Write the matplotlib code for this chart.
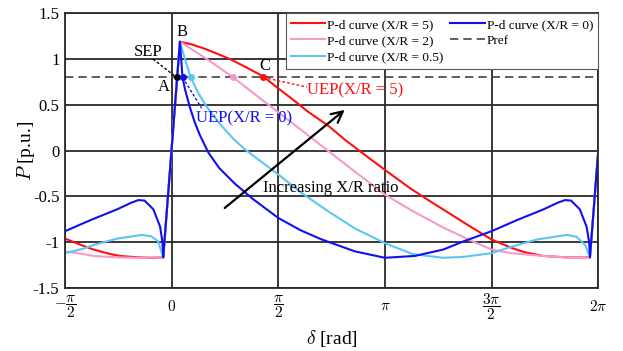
import numpy as np
import matplotlib
matplotlib.use("Agg")
import matplotlib.pyplot as plt

plt.rcParams["font.family"] = ["Liberation Serif", "DejaVu Serif"]
plt.rcParams["mathtext.fontset"] = "cm"

# P-d curves (delta in rad, P in p.u.)
d_xr5 = [-1.571, -1.3, -1.15, -0.9, -0.76, -0.5, -0.3, -0.124, 0.122, 0.3, 0.5, 0.7, 0.86, 1.1,
         1.35, 1.57, 1.8, 2.0, 2.31, 2.55, 2.78, 3.14, 3.51, 3.8, 4.1, 4.4, 4.71, 5.0, 5.2, 5.47,
         5.8, 6.16, 6.283]
p_xr5 = [-0.96, -1.04, -1.08, -1.13, -1.15, -1.165, -1.17, -1.165, 1.19, 1.16, 1.11, 1.05, 1.00, 0.91,
         0.81, 0.68, 0.55, 0.43, 0.27, 0.12, -0.01, -0.21, -0.41, -0.55, -0.69, -0.83, -0.97, -1.06, -1.11, -1.15,
         -1.165, -1.165, 0.0]

d_xr2 = [-1.571, -1.3, -1.15, -0.8, -0.5, -0.124, 0.122, 0.5, 0.907, 1.2, 1.57, 1.9, 2.3, 2.7,
         3.14, 3.55, 4.0, 4.4, 4.71, 5.0, 5.47, 5.8, 6.16, 6.283]
p_xr2 = [-1.10, -1.13, -1.15, -1.165, -1.17, -1.165, 1.19, 1.01, 0.80, 0.63, 0.42, 0.23, 0.0, -0.23,
         -0.48, -0.66, -0.84, -0.98, -1.08, -1.12, -1.15, -1.165, -1.165, 0.0]

d_xr05 = [-1.571, -1.3, -1.15, -0.8, -0.44, -0.3, -0.2, -0.124, 0.122, 0.2, 0.28, 0.4, 0.515, 0.7,
          0.907, 1.07, 1.3, 1.57, 1.91, 2.3, 2.7, 3.14, 3.55, 4.0, 4.3, 4.71, 5.0, 5.38, 5.82, 5.96,
          6.09, 6.16, 6.283]
p_xr05 = [-1.12, -1.07, -1.03, -0.96, -0.92, -0.935, -0.99, -1.165, 1.19, 0.99, 0.80, 0.62, 0.48, 0.30,
          0.13, 0.02, -0.11, -0.26, -0.46, -0.66, -0.85, -1.01, -1.13, -1.17, -1.16, -1.12, -1.05, -0.97, -0.92, -0.94,
          -1.03, -1.165, 0.0]

d_xr0 = [-1.571, -1.2, -0.8, -0.6, -0.49, -0.4, -0.27, -0.17, -0.135, -0.124, 0.122, 0.16, 0.2, 0.27,
         0.34, 0.416, 0.54, 0.7, 0.93, 1.2, 1.57, 1.9, 2.21, 2.7, 3.14, 3.58, 4.0, 4.3, 4.71, 5.08,
         5.48, 5.68, 5.79, 5.88, 6.01, 6.11, 6.148, 6.16, 6.283]
p_xr0 = [-0.88, -0.76, -0.64, -0.57, -0.54, -0.545, -0.64, -0.83, -1.0, -1.165, 1.19, 0.80, 0.66, 0.47,
         0.31, 0.17, -0.02, -0.19, -0.36, -0.53, -0.735, -0.87, -0.97, -1.10, -1.17, -1.15, -1.08, -0.99, -0.88, -0.76,
         -0.64, -0.57, -0.54, -0.545, -0.64, -0.83, -1.0, -1.165, 0.01]

p_ref = 0.8

# operating points on the Pref line
pt_sep = (0.074, 0.8)
pt_uep0 = (0.162, 0.8)
pt_uep05 = (0.28, 0.8)
pt_uep2 = (0.907, 0.8)
pt_uep5 = (1.35, 0.8)

x_ticks = [-np.pi / 2, 0, np.pi / 2, np.pi, 3 * np.pi / 2, 2 * np.pi]
x_labels = [r"$-\dfrac{\pi}{2}$", r"$0$", r"$\dfrac{\pi}{2}$", r"$\pi$", r"$\dfrac{3\pi}{2}$", r"$2\pi$"]
y_ticks = [-1.5, -1, -0.5, 0, 0.5, 1, 1.5]
y_labels = ["-1.5", "-1", "-0.5", "0", "0.5", "1", "1.5"]

c_red = "#ff1010"
c_pink = "#f59acb"
c_cyan = "#5cc6f2"
c_blue = "#1010f0"

fig = plt.figure(figsize=(6.23, 3.51), dpi=100)
ax = fig.add_axes([0.1043, 0.1795, 0.8561, 0.7825])

ax.plot(d_xr5, p_xr5, color=c_red, lw=1.5, label="P-d curve (X/R = 5)")
ax.plot(d_xr2, p_xr2, color=c_pink, lw=1.5, label="P-d curve (X/R = 2)")
ax.plot(d_xr05, p_xr05, color=c_cyan, lw=1.5, label="P-d curve (X/R = 0.5)")
ax.plot(d_xr0, p_xr0, color=c_blue, lw=1.5, label="P-d curve (X/R = 0)")
ax.axhline(p_ref, color="#444444", lw=1.2, ls=(0, (5, 3)), label="Pref")

# points
ax.plot(*pt_sep, "o", color="black", ms=4, zorder=5)
ax.plot(*pt_uep0, "o", color=c_blue, ms=4, zorder=5)
ax.plot(*pt_uep05, "o", color=c_cyan, ms=4, zorder=5)
ax.plot(*pt_uep2, "o", color=c_pink, ms=4, zorder=5)
ax.plot(*pt_uep5, "o", color=c_red, ms=4, zorder=5)

# annotations
ax.plot([-0.275, pt_sep[0]], [1.0, pt_sep[1]], color="black", lw=1, ls=(0, (2, 1.5)))
ax.plot([pt_uep0[0], 0.44], [pt_uep0[1], 0.465], color=c_blue, lw=1, ls=(0, (2, 1.5)))
ax.plot([pt_uep5[0], 1.99], [pt_uep5[1], 0.695], color=c_red, lw=1, ls=(0, (2, 1.5)))

ax.text(-0.345, 1.08, "SEP", fontsize=12, ha="center", va="center")
ax.text(-0.11, 0.69, "A", fontsize=12, ha="center", va="center")
ax.text(0.147, 1.30, "B", fontsize=12, ha="center", va="center")
ax.text(1.374, 0.93, "C", fontsize=12, ha="center", va="center")
ax.text(0.36, 0.35, "UEP(X/R = 0)", fontsize=12, color=c_blue, ha="left", va="center")
ax.text(2.0, 0.655, "UEP(X/R = 5)", fontsize=12, color=c_red, ha="left", va="center")
ax.text(1.35, -0.41, "Increasing X/R ratio", fontsize=12, ha="left", va="center")
ax.annotate("", xy=(2.58, 0.465), xytext=(0.75, -0.645),
            arrowprops=dict(arrowstyle="->", color="black", lw=1.6, mutation_scale=20))

ax.set_xlim(-np.pi / 2, 2 * np.pi)
ax.set_ylim(-1.5, 1.5)
ax.set_xticks(x_ticks)
ax.set_xticklabels(x_labels, fontsize=11, va="center")
ax.set_yticks(y_ticks)
ax.set_yticklabels(y_labels, fontsize=12)
ax.tick_params(axis="x", length=0, pad=13.5)
ax.tick_params(axis="y", length=0, pad=4)
ax.grid(True, color="#2a2a2a", lw=1.3)
ax.set_axisbelow(True)
for s in ax.spines.values():
    s.set_color("#2a2a2a")
    s.set_linewidth(1.3)

ax.set_xlabel(r"$\delta$ [rad]", fontsize=14, labelpad=4)
ax.set_ylabel(r"$P$ [p.u.]", fontsize=14, labelpad=-3)

leg = ax.legend(loc="upper right", ncol=2, fontsize=9.5, frameon=True, fancybox=False,
                edgecolor="#555555", framealpha=1, borderaxespad=0, handlelength=2.6,
                handletextpad=0.15, labelspacing=0.3, columnspacing=0.5, borderpad=0.4)
leg.get_frame().set_linewidth(0.8)

fig.savefig("out.png", dpi=100)
